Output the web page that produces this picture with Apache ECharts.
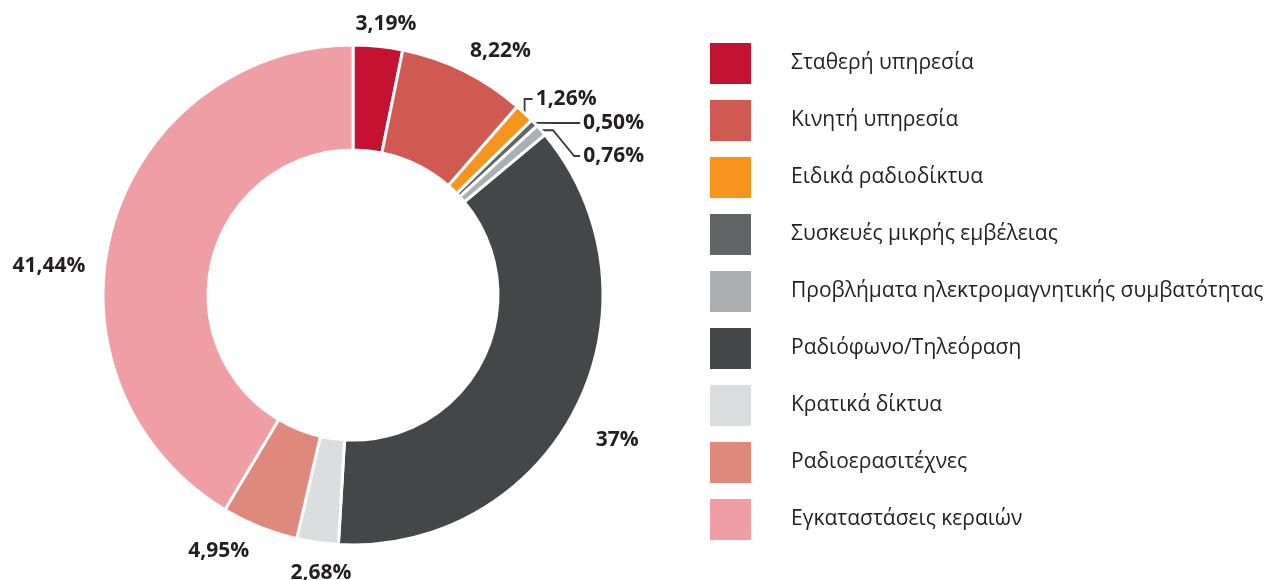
<!DOCTYPE html>
<html>
<head>
<meta charset="utf-8">
<script src="https://cdn.jsdelivr.net/npm/echarts@6/dist/echarts.min.js"></script>
<style>
  html, body { margin: 0; padding: 0; background: #fff; }
  #chart { width: 1264px; height: 580px; }
</style>
</head>
<body>
<div id="chart"></div>
<script>
// κατηγορίες και ποσοστά
var categories = [
  'Σταθερή υπηρεσία',
  'Κινητή υπηρεσία',
  'Ειδικά ραδιοδίκτυα',
  'Συσκευές μικρής εμβέλειας',
  'Προβλήματα ηλεκτρομαγνητικής συμβατότητας',
  'Ραδιόφωνο/Τηλεόραση',
  'Κρατικά δίκτυα',
  'Ραδιοερασιτέχνες',
  'Εγκαταστάσεις κεραιών'
]
var values = [3.19, 8.22, 1.26, 0.50, 0.76, 37, 2.68, 4.95, 41.44]
var labels = ['3,19%', '8,22%', '1,26%', '0,50%', '0,76%', '37%', '2,68%', '4,95%', '41,44%']
var colors = ['#c41230', '#d05a51', '#f7941d', '#636466', '#adaeb1', '#454648', '#dcdddf', '#de897b', '#ef9ea4']

// μόνο οι μικρές φέτες έχουν γραμμή
var withLine = [false, false, true, true, true, false, false, false, false]

// μικρές μετατοπίσεις ετικετών (dx, dy) για να μοιάζουν με το πρωτότυπο
var labelNudge = [[-43, -8], [-15, -7], [-13, -4], [13, -3], [-4, 7], [-12, 26], [55, 10], [24, 11], [6, 41]]

var chart = echarts.init(document.getElementById('chart'))

var seriesData = values.map(function (v, i) {
  return {
    name: categories[i],
    value: v,
    itemStyle: { color: colors[i] },
    label: { formatter: labels[i] },
    labelLine: { show: withLine[i] }
  }
})

// γραμμή από την άκρη της φέτας ως την ετικέτα
function leaderLine (i, p0, rect, n) {
  var endX = rect.x + n[0] - 3
  var cy = rect.y + n[1] + rect.height / 2
  if (i === 2) {
    return [p0, [p0[0], cy], [endX, cy]]
  }
  if (i === 3) {
    return [p0, [(p0[0] + endX) / 2, cy], [endX, cy]]
  }
  return [p0, [p0[0] + 12, p0[1]], [endX - 6, cy], [endX, cy]]
}

chart.setOption({
  animation: false,
  legend: {
    orient: 'vertical',
    left: 708,
    top: 41,
    padding: 0,
    itemWidth: 43,
    itemHeight: 43,
    itemGap: 12,
    icon: 'rect',
    data: categories,
    textStyle: {
      fontFamily: 'Open Sans',
      fontSize: 21,
      color: '#231f20',
      padding: [0, 0, 0, 34]
    }
  },
  series: [
    {
      type: 'pie',
      center: [353, 295],
      radius: [145, 250],
      startAngle: 90,
      clockwise: true,
      itemStyle: {
        borderColor: '#fff',
        borderWidth: 3
      },
      label: {
        show: true,
        position: 'outside',
        overflow: 'none',
        fontFamily: 'Open Sans',
        fontWeight: 'bold',
        fontSize: 21,
        color: '#231f20'
      },
      labelLine: {
        length: 14,
        length2: 14,
        lineStyle: { color: '#3a3a3c', width: 1.8 }
      },
      labelLayout: function (params) {
        var i = params.dataIndex
        var n = labelNudge[i]
        var out = { dx: n[0], dy: n[1] }
        if (withLine[i] && params.labelLinePoints) {
          out.labelLinePoints = leaderLine(i, params.labelLinePoints[0], params.labelRect, n)
        }
        return out
      },
      data: seriesData
    }
  ]
})
</script>
</body>
</html>
